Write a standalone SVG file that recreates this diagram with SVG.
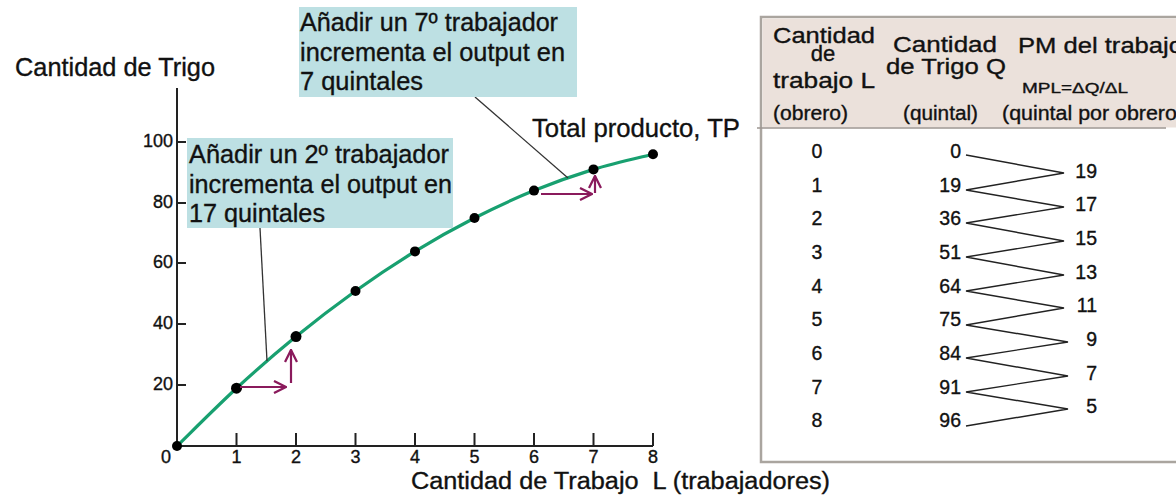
<svg xmlns="http://www.w3.org/2000/svg" width="1176" height="497" viewBox="0 0 1176 497">
<style>
text{font-family:"Liberation Sans",Arial,sans-serif;fill:#111;stroke:#111;stroke-width:0.35}
.big{font-size:25.5px}
.xt{font-size:23px}
.tick{font-size:18px}
.hdr{font-size:22px}
.sub{font-size:19.5px}
.num{font-size:19.5px}
.box{fill:#bde0e3}
.axis{stroke:#222;stroke-width:2;fill:none}
.lead{stroke:#333;stroke-width:1.3;fill:none}
.zig{stroke:#222;stroke-width:1.4;fill:none}
.arr{stroke:#8a1a5c;stroke-width:2.2;fill:none}
.dot{fill:#000}
</style>
<defs>
<marker id="chev" viewBox="0 0 14 14" refX="13" refY="7" markerWidth="14" markerHeight="14" markerUnits="userSpaceOnUse" orient="auto">
<path d="M1,1 L13,7 L1,13" fill="none" stroke="#8a1a5c" stroke-width="2.3"/>
</marker>
</defs>
<rect width="1176" height="497" fill="#fff"/>

<g id="axes">
<path class="axis" d="M177,88 V446 H653"/>
<path class="axis" d="M177,142 h9 M177,203 h9 M177,263 h9 M177,324 h9 M177,385 h9"/>
<path class="axis" d="M236.5,446 v-13 M296,446 v-13 M355.5,446 v-13 M415,446 v-13 M474.5,446 v-13 M534,446 v-13 M593.5,446 v-13 M653,446 v-13"/>
<g text-anchor="end">
<text x="173" y="147" class="tick">100</text>
<text x="173" y="208" class="tick">80</text>
<text x="173" y="268" class="tick">60</text>
<text x="173" y="329" class="tick">40</text>
<text x="173" y="390" class="tick">20</text>
</g>
<g text-anchor="middle">
<text x="166" y="463" class="tick">0</text>
<text x="236.5" y="463" class="tick">1</text>
<text x="296" y="463" class="tick">2</text>
<text x="355.5" y="463" class="tick">3</text>
<text x="415" y="463" class="tick">4</text>
<text x="474.5" y="463" class="tick">5</text>
<text x="534" y="463" class="tick">6</text>
<text x="593.5" y="463" class="tick">7</text>
<text x="653" y="463" class="tick">8</text>
</g>
<text x="15" y="76" class="big" textLength="200" lengthAdjust="spacingAndGlyphs">Cantidad de Trigo</text>
<text x="411" y="489" class="xt" textLength="419" lengthAdjust="spacingAndGlyphs" xml:space="preserve">Cantidad de Trabajo  L (trabajadores)</text>
</g>

<g id="tp-curve">
<path d="M177,446 C186.9,436.4 216.7,406.4 236.5,388.2 C256.3,370 276.2,352.8 296,336.6 C315.8,320.4 335.7,305.2 355.5,291 C375.3,276.8 395.2,263.6 415,251.4 C434.8,239.2 454.7,228.1 474.5,218 C494.3,207.9 514.2,198.7 534,190.6 C553.8,182.5 573.7,175.5 593.5,169.4 C613.3,163.3 643.1,156.7 653,154.2" fill="none" stroke="#18a070" stroke-width="3.2"/>
<circle class="dot" cx="177" cy="446" r="5"/>
<circle class="dot" cx="236.5" cy="388.2" r="5.5"/>
<circle class="dot" cx="296" cy="336.6" r="5.5"/>
<circle class="dot" cx="355.5" cy="291" r="5"/>
<circle class="dot" cx="415" cy="251.4" r="5"/>
<circle class="dot" cx="474.5" cy="218" r="5"/>
<circle class="dot" cx="534" cy="190.6" r="5"/>
<circle class="dot" cx="593.5" cy="169.4" r="5"/>
<circle class="dot" cx="653" cy="154.2" r="5"/>
<text x="532" y="137" class="big" textLength="208" lengthAdjust="spacingAndGlyphs">Total producto, TP</text>
</g>

<g id="connectors">
<path class="arr" d="M240,387 H286" marker-end="url(#chev)"/>
<path class="arr" d="M291,383 V350" marker-end="url(#chev)"/>
<path class="arr" d="M541,194 H592" marker-end="url(#chev)"/>
<path class="arr" d="M595,193 V176" marker-end="url(#chev)"/>
<path class="lead" d="M475,97 L568,178"/>
<path class="lead" d="M260,228 L267,361"/>
</g>

<g id="callout-7">
<rect class="box" x="299" y="7" width="278" height="90"/>
<text x="300" y="31" class="big" textLength="258" lengthAdjust="spacingAndGlyphs">Añadir un 7º trabajador</text>
<text x="300" y="61" class="big" textLength="265" lengthAdjust="spacingAndGlyphs">incrementa el output en</text>
<text x="300" y="90" class="big" textLength="123" lengthAdjust="spacingAndGlyphs">7 quintales</text>
</g>

<g id="callout-2">
<rect class="box" x="187" y="138" width="266" height="90"/>
<text x="189" y="163" class="big" textLength="260" lengthAdjust="spacingAndGlyphs">Añadir un 2º trabajador</text>
<text x="189" y="193" class="big" textLength="263" lengthAdjust="spacingAndGlyphs">incrementa el output en</text>
<text x="189" y="222" class="big" textLength="136" lengthAdjust="spacingAndGlyphs">17 quintales</text>
</g>

<g id="table">
<rect x="761" y="17" width="440" height="445" fill="#fff" stroke="#aaa59f" stroke-width="2.5"/>
<rect x="762.5" y="18.5" width="437" height="109" fill="#ebe1db"/>
<path d="M757,128 H1166" stroke="#9c9690" stroke-width="1.5"/>
<text class="hdr" text-anchor="middle"><tspan x="824" y="43" textLength="102" lengthAdjust="spacingAndGlyphs">Cantidad</tspan><tspan x="823" y="61">de</tspan><tspan x="824" y="88" textLength="102" lengthAdjust="spacingAndGlyphs">trabajo L</tspan></text>
<text x="773" y="120" class="sub" textLength="75" lengthAdjust="spacingAndGlyphs">(obrero)</text>
<text class="hdr" text-anchor="middle"><tspan x="945" y="52" textLength="104" lengthAdjust="spacingAndGlyphs">Cantidad</tspan><tspan x="946" y="74" textLength="120" lengthAdjust="spacingAndGlyphs">de Trigo Q</tspan></text>
<text x="903" y="120" class="sub" textLength="75" lengthAdjust="spacingAndGlyphs">(quintal)</text>
<text x="1018" y="53" class="hdr" textLength="165" lengthAdjust="spacingAndGlyphs">PM del trabajo</text>
<text x="1022" y="93" font-size="15" textLength="106" lengthAdjust="spacingAndGlyphs">MPL=ΔQ/ΔL</text>
<text x="1002" y="120" class="sub" textLength="182" lengthAdjust="spacingAndGlyphs">(quintal por obrero)</text>

<g text-anchor="middle">
<text x="817" y="158" class="num">0</text>
<text x="817" y="192" class="num">1</text>
<text x="817" y="225" class="num">2</text>
<text x="817" y="259" class="num">3</text>
<text x="817" y="293" class="num">4</text>
<text x="817" y="326" class="num">5</text>
<text x="817" y="360" class="num">6</text>
<text x="817" y="394" class="num">7</text>
<text x="817" y="427" class="num">8</text>
</g>
<g text-anchor="end">
<text x="961" y="158" class="num">0</text>
<text x="961" y="192" class="num">19</text>
<text x="961" y="225" class="num">36</text>
<text x="961" y="259" class="num">51</text>
<text x="961" y="293" class="num">64</text>
<text x="961" y="326" class="num">75</text>
<text x="961" y="360" class="num">84</text>
<text x="961" y="394" class="num">91</text>
<text x="961" y="427" class="num">96</text>
</g>
<g text-anchor="end">
<text x="1097" y="178" class="num">19</text>
<text x="1097" y="211" class="num">17</text>
<text x="1097" y="245" class="num">15</text>
<text x="1097" y="279" class="num">13</text>
<text x="1097" y="312" class="num">11</text>
<text x="1097" y="346" class="num">9</text>
<text x="1097" y="380" class="num">7</text>
<text x="1097" y="413" class="num">5</text>
</g>
<path class="zig" d="M966,155 L1064,173 L966,190 L1064,207 L966,223 L1064,241 L966,257 L1064,275 L966,291 L1064,308 L966,325 L1068,342 L966,358 L1068,376 L966,392 L1068,409 L966,426"/>
</g>
</svg>
